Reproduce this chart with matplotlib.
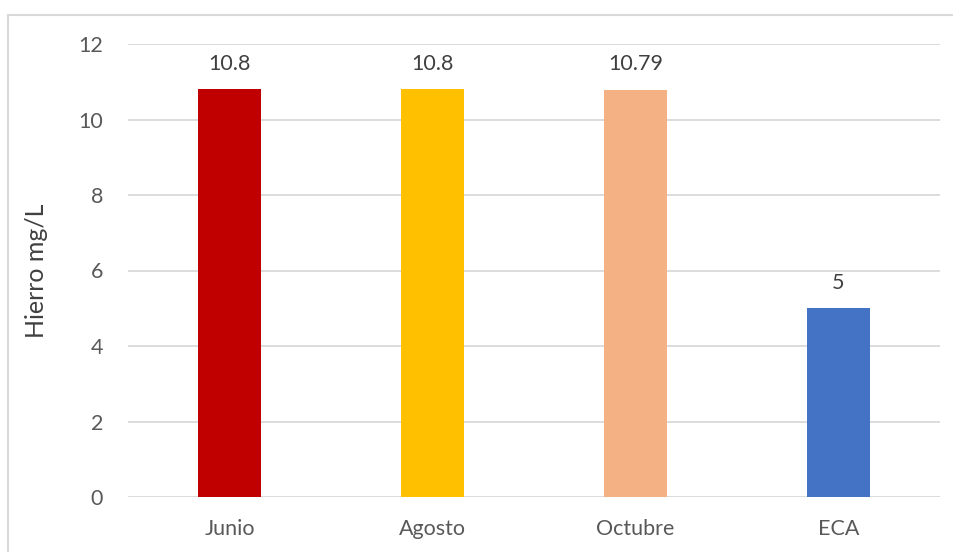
import matplotlib
matplotlib.use("Agg")
import matplotlib.pyplot as plt
from matplotlib.patches import Rectangle

categories = ["Junio", "Agosto", "Octubre", "ECA"]
values = [10.8, 10.8, 10.79, 5]
value_labels = ["10.8", "10.8", "10.79", "5"]
colors = ["#C00000", "#FFC000", "#F4B183", "#4472C4"]
yticks = [0, 2, 4, 6, 8, 10, 12]

plt.rcParams['font.family'] = ['Lato', 'DejaVu Sans']

fig = plt.figure(figsize=(9.54, 5.52), dpi=100)
ax = fig.add_axes([128/954, 55/552, 812/954, 453/552])

x = range(len(categories))
bars = ax.bar(x, values, width=0.315, color=colors, zorder=3)
ax.set_xlim(-0.5, len(categories) - 0.5)
ax.set_ylim(0, 12)
ax.set_yticks(yticks)
ax.set_xticks(list(x))
ax.set_xticklabels(categories)

ax.grid(axis='y', color='#d9d9d9', linewidth=1.3, zorder=0)
for s in ax.spines.values():
    s.set_visible(False)
ax.tick_params(axis='both', length=0, labelsize=15.5, colors='#595959')
ax.tick_params(axis='y', pad=18)
ax.tick_params(axis='x', pad=16)
ax.set_ylabel("Hierro mg/L", fontsize=18, color='#404040', labelpad=22)

for b, lab in zip(bars, value_labels):
    ax.annotate(lab, (b.get_x() + b.get_width() / 2, b.get_height()),
                xytext=(0, 11), textcoords='offset points', ha='center', va='bottom',
                fontsize=15.5, color='#404040')

fig.patches.append(Rectangle((8/954, -0.1), 1.2, (552 - 15)/552 + 0.1, transform=fig.transFigure,
                             fill=False, edgecolor='#d9d9d9', linewidth=1.5))

fig.savefig("out.png", dpi=100)
